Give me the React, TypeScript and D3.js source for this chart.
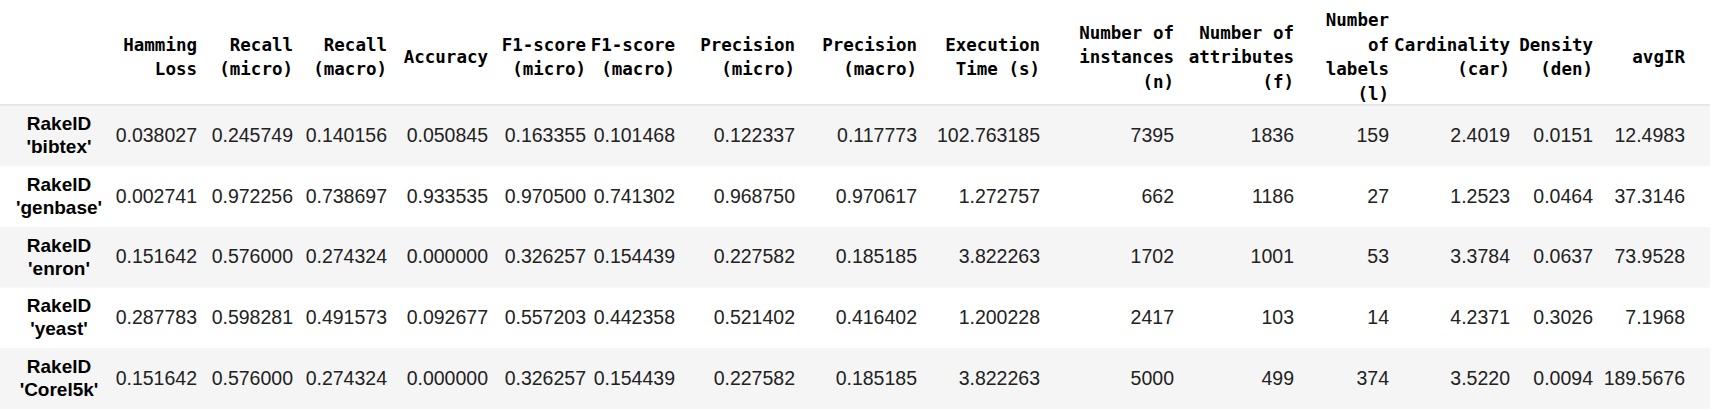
import React from "react";
import * as d3 from "d3";

// column headers (split into lines as in the picture)
const headers: string[][] = [
  ["Hamming", "Loss"],
  ["Recall", "(micro)"],
  ["Recall", "(macro)"],
  ["Accuracy"],
  ["F1-score", "(micro)"],
  ["F1-score", "(macro)"],
  ["Precision", "(micro)"],
  ["Precision", "(macro)"],
  ["Execution", "Time (s)"],
  ["Number of", "instances", "(n)"],
  ["Number of", "attributes", "(f)"],
  ["Number", "of", "labels", "(l)"],
  ["Cardinality", "(car)"],
  ["Density", "(den)"],
  ["avgIR"],
];

const rowLabels: string[][] = [
  ["RakelD", "'bibtex'"],
  ["RakelD", "'genbase'"],
  ["RakelD", "'enron'"],
  ["RakelD", "'yeast'"],
  ["RakelD", "'Corel5k'"],
];

const bibtex = ["0.038027", "0.245749", "0.140156", "0.050845", "0.163355", "0.101468", "0.122337", "0.117773", "102.763185", "7395", "1836", "159", "2.4019", "0.0151", "12.4983"];
const genbase = ["0.002741", "0.972256", "0.738697", "0.933535", "0.970500", "0.741302", "0.968750", "0.970617", "1.272757", "662", "1186", "27", "1.2523", "0.0464", "37.3146"];
const enron = ["0.151642", "0.576000", "0.274324", "0.000000", "0.326257", "0.154439", "0.227582", "0.185185", "3.822263", "1702", "1001", "53", "3.3784", "0.0637", "73.9528"];
const yeast = ["0.287783", "0.598281", "0.491573", "0.092677", "0.557203", "0.442358", "0.521402", "0.416402", "1.200228", "2417", "103", "14", "4.2371", "0.3026", "7.1968"];
const corel5k = ["0.151642", "0.576000", "0.274324", "0.000000", "0.326257", "0.154439", "0.227582", "0.185185", "3.822263", "5000", "499", "374", "3.5220", "0.0094", "189.5676"];

const rows = [bibtex, genbase, enron, yeast, corel5k];

// right edges of each column (layout)
const colRight = [197, 293, 387, 488, 586, 675, 795, 917, 1040, 1174, 1294, 1389, 1510, 1593, 1685];

const W = 1715;
const H = 410;
const headerH = 105;
const rowH = 60.6;
const tableW = 1710;

export default function App() {
  const y = d3
    .scaleBand<number>()
    .domain(d3.range(rows.length))
    .range([headerH, headerH + rowH * rows.length]);
  const mono = "'DejaVu Sans Mono', monospace";
  const sans = "'Liberation Sans', Arial, sans-serif";
  const lh = 24.6;

  return (
    <svg width={W} height={H} style={{ position: "absolute", left: 0, top: 0, background: "#fff" }}>
      {headers.map((lines, i) => {
        const y0 = 57 - ((lines.length - 1) * lh) / 2;
        return (
          <text key={i} textAnchor="end" fontFamily={mono} fontWeight="bold" fontSize={17.5} fill="#000">
            {lines.map((l, j) => (
              <tspan key={j} x={colRight[i]} y={y0 + j * lh} dy="0.35em">
                {l}
              </tspan>
            ))}
          </text>
        );
      })}
      <line x1={0} x2={tableW} y1={headerH} y2={headerH} stroke="#dcdcdc" strokeWidth={1.5} />
      {rows.map((r, i) => {
        const top = y(i)!;
        const cy = top + y.bandwidth() / 2;
        return (
          <g key={i}>
            {i % 2 === 0 && <rect x={0} y={top + 0.75} width={tableW} height={y.bandwidth()} fill="#f5f5f5" />}
            <text textAnchor="middle" fontFamily={sans} fontWeight="bold" fontSize={19} fill="#000">
              {rowLabels[i].map((l, j) => (
                <tspan key={j} x={59} y={cy - 11.5 + j * 23} dy="0.35em">
                  {l}
                </tspan>
              ))}
            </text>
            {r.map((v, j) => (
              <text key={j} x={colRight[j]} y={cy} dy="0.35em" textAnchor="end" fontFamily={sans} fontSize={19.5} fill="#222">
                {v}
              </text>
            ))}
          </g>
        );
      })}
    </svg>
  );
}
